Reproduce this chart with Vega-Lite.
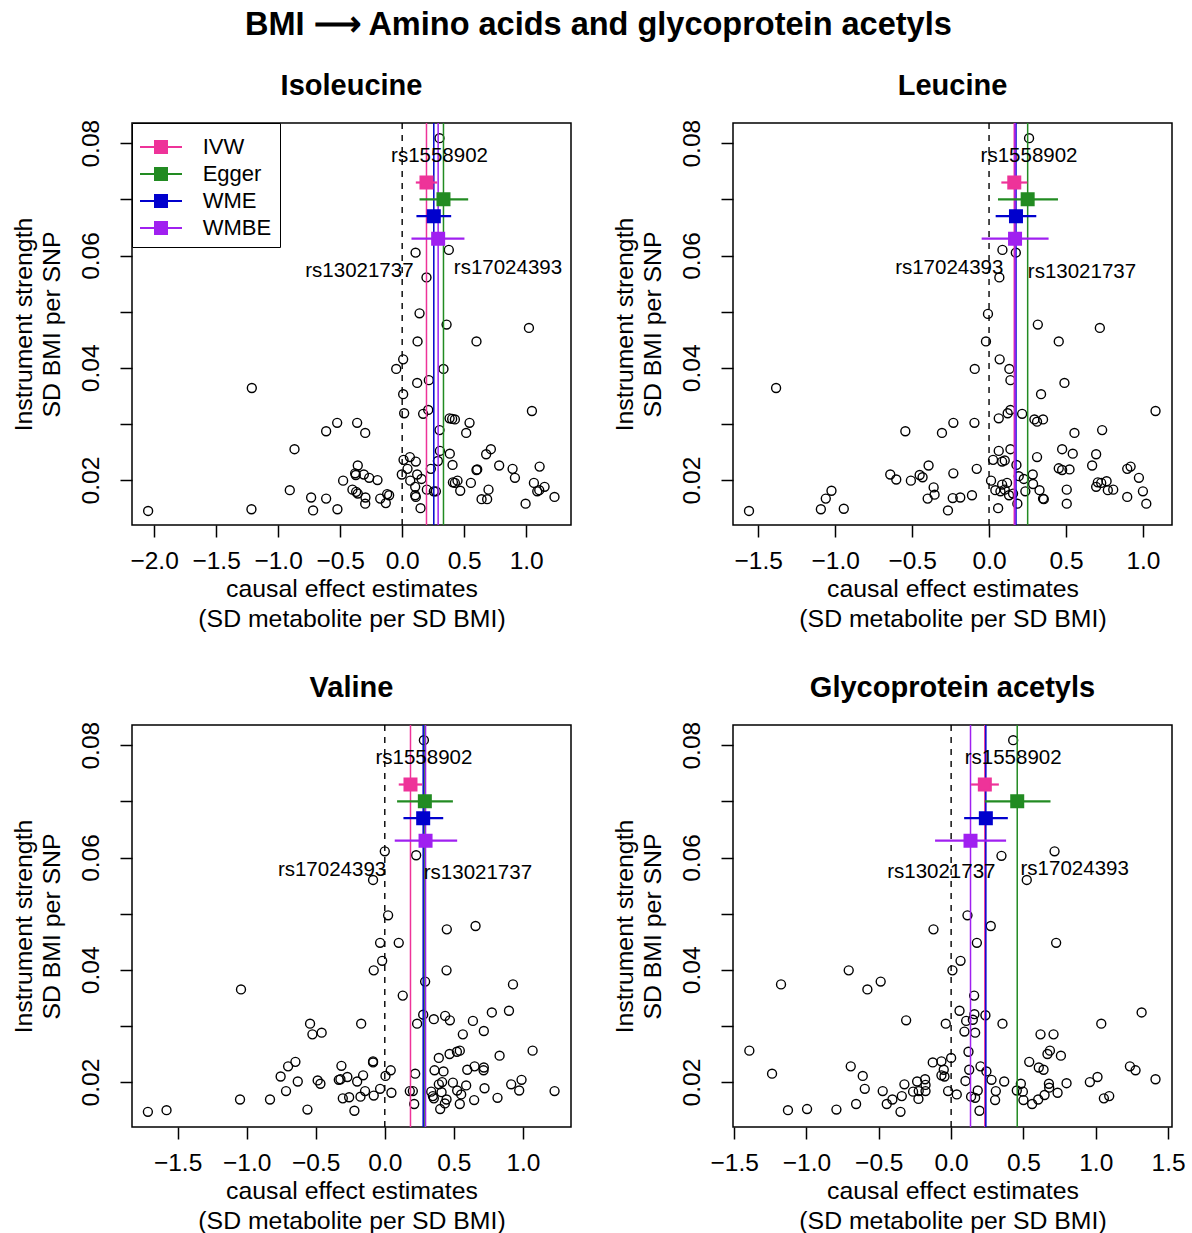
{
"$schema": "https://vega.github.io/schema/vega-lite/v6.json",
"background": "white",
"padding": {"left": 10, "top": 9, "right": 5, "bottom": 5},
"title": {"text": "BMI ⟶ Amino acids and glycoprotein acetyls", "fontSize": 32.5, "fontWeight": "bold", "font": "Liberation Sans", "color": "black", "anchor": "middle", "offset": 30},
"columns": 2,
"spacing": {"row": 200, "column": 162},
"bounds": "flush",
"resolve": {"scale": {"color": "independent", "stroke": "independent", "x": "independent", "y": "independent"}},
"config": {
 "font": "Liberation Sans",
 "view": {"stroke": "black", "strokeWidth": 1.5},
 "axis": {"domain": false, "grid": false, "tickColor": "black", "tickSize": 12, "tickWidth": 1.5, "labelColor": "black", "labelFontSize": 24.5, "labelFont": "Liberation Sans", "titleFont": "Liberation Sans", "titleFontSize": 24.8, "titleFontWeight": "normal", "titleColor": "black", "labelOverlap": false, "labelFlush": false},
 "axisX": {"labelPadding": 12, "titlePadding": 4, "titleLineHeight": 30},
 "axisY": {"labelAngle": 270, "labelAlign": "center", "labelBaseline": "bottom", "labelPadding": 17, "titlePadding": 13, "titleLineHeight": 28.4}
},
"concat": [
{
 "width": 439, "height": 402,
 "title": {"text": "Isoleucine", "fontSize": 29, "fontWeight": "bold", "font": "Liberation Sans", "color": "black", "offset": 18},
 "data": {"values": [
{"b":0.301,"s":0.0809,"snp":"rs1558902"},{"b":0.108,"s":0.0605,"snp":"rs13021737"},{"b":0.376,"s":0.0610,"snp":"rs17024393"},{"b":0.196,"s":0.0561},
{"b":0.140,"s":0.0497},{"b":0.358,"s":0.0477},{"b":1.022,"s":0.0471},{"b":0.124,"s":0.0447},{"b":0.599,"s":0.0447},{"b":0.008,"s":0.0415},{"b":-0.048,"s":0.0398},{"b":0.333,"s":0.0398},{"b":0.215,"s":0.0378},{"b":0.121,"s":0.0373},
{"b":-1.212,"s":0.0364},{"b":0.008,"s":0.0353},{"b":0.210,"s":0.0325},{"b":1.046,"s":0.0323},{"b":0.169,"s":0.0318},{"b":0.016,"s":0.0319},{"b":0.382,"s":0.0310},{"b":0.403,"s":0.0309},{"b":0.425,"s":0.0308},{"b":0.543,"s":0.0302},
{"b":-0.524,"s":0.0302},{"b":-0.363,"s":0.0302},{"b":-0.613,"s":0.0287},{"b":-0.298,"s":0.0284},{"b":0.301,"s":0.0289},{"b":0.516,"s":0.0284},{"b":-0.868,"s":0.0255},{"b":0.715,"s":0.0255},{"b":0.677,"s":0.0246},{"b":0.304,"s":0.0252},
{"b":0.384,"s":0.0247},{"b":0.062,"s":0.0241},{"b":0.011,"s":0.0236},{"b":0.110,"s":0.0233},{"b":0.288,"s":0.0234},{"b":-0.358,"s":0.0226},{"b":0.406,"s":0.0227},{"b":0.782,"s":0.0226},{"b":1.108,"s":0.0224},{"b":0.231,"s":0.0220},
{"b":0.599,"s":0.0218},{"b":0.605,"s":0.0219},{"b":0.890,"s":0.0220},{"b":-0.379,"s":0.0212},{"b":-0.309,"s":0.0210},{"b":0.043,"s":0.0220},{"b":-0.003,"s":0.0210},{"b":0.121,"s":0.0210},{"b":-0.374,"s":0.0209},{"b":-0.266,"s":0.0204},
{"b":-0.199,"s":0.0200},{"b":-0.476,"s":0.0199},{"b":0.065,"s":0.0199},{"b":0.156,"s":0.0202},{"b":0.909,"s":0.0204},{"b":0.409,"s":0.0196},{"b":0.425,"s":0.0195},{"b":0.446,"s":0.0199},{"b":0.554,"s":0.0195},{"b":1.062,"s":0.0195},
{"b":-0.401,"s":0.0183},{"b":-0.371,"s":0.0179},{"b":0.105,"s":0.0188},{"b":0.199,"s":0.0183},{"b":0.255,"s":0.0180},{"b":0.272,"s":0.0180},{"b":0.468,"s":0.0181},{"b":0.696,"s":0.0183},{"b":1.089,"s":0.0180},{"b":1.105,"s":0.0182},
{"b":1.148,"s":0.0188},{"b":-0.906,"s":0.0182},{"b":-0.358,"s":0.0176},{"b":-0.734,"s":0.0169},{"b":-0.613,"s":0.0167},{"b":-0.296,"s":0.0169},{"b":-0.177,"s":0.0167},{"b":-0.121,"s":0.0175},{"b":-0.105,"s":0.0173},{"b":-0.132,"s":0.0159},
{"b":-0.298,"s":0.0158},{"b":0.105,"s":0.0173},{"b":0.110,"s":0.0170},{"b":0.640,"s":0.0166},{"b":0.685,"s":0.0166},{"b":1.228,"s":0.0170},{"b":0.995,"s":0.0158},{"b":0.148,"s":0.0150},{"b":-0.718,"s":0.0146},{"b":-0.522,"s":0.0148},
{"b":-1.215,"s":0.0148},{"b":-2.048,"s":0.0145}
 ]},
 "layer": [
  {"mark": {"type": "point", "shape": "circle", "filled": false, "stroke": "black", "strokeWidth": 1.4, "size": 80, "opacity": 1},
   "encoding": {
    "x": {"field": "b", "type": "quantitative", "scale": {"domain": [-2.178, 1.361], "nice": false, "zero": false}, "axis": {"title": ["causal effect estimates", "(SD metabolite per SD BMI)"], "values": [-2, -1.5, -1, -0.5, 0, 0.5, 1], "format": ".1f"}},
    "y": {"field": "s", "type": "quantitative", "scale": {"domain": [0.012, 0.0836], "nice": false, "zero": false}, "axis": {"title": ["Instrument strength", "SD BMI per SNP"], "values": [0.02, 0.03, 0.04, 0.05, 0.06, 0.07, 0.08], "format": ".2f", "labelExpr": "indexof(['0.02','0.04','0.06','0.08'], datum.label) >= 0 ? datum.label : ''"}}}},
  {"data": {"values": [{"ref": 0}]}, "mark": {"type": "rule", "color": "black", "strokeWidth": 1.4, "strokeDash": [6, 6]}, "encoding": {"x": {"field": "ref", "type": "quantitative"}}},
  {"data": {"values": [{"method":"IVW","est":0.196,"lo":0.110,"hi":0.282,"ypos":0.073},{"method":"Egger","est":0.333,"lo":0.140,"hi":0.532,"ypos":0.070},{"method":"WME","est":0.255,"lo":0.115,"hi":0.395,"ypos":0.067},{"method":"WMBE","est":0.290,"lo":0.075,"hi":0.502,"ypos":0.063}]},
   "layer": [
    {"mark": {"type": "rule", "strokeWidth": 1.5}, "encoding": {"x": {"field": "est", "type": "quantitative"}, "color": {"field": "method", "type": "nominal", "scale": {"domain": ["IVW","Egger","WME","WMBE"], "range": ["#EE3399","#228B22","#0000CD","#A020F0"]}, "legend": {"title": " ", "titleFontSize": 1, "titlePadding": 4, "orient": "top-left", "offset": 0, "padding": 8, "strokeColor": "black", "fillColor": "white", "symbolType": "M-3.5,0H3.5M-1,-1H1V1H-1Z", "symbolSize": 144, "symbolStrokeWidth": 2, "symbolOffset": 10, "labelFontSize": 22, "labelFont": "Liberation Sans", "labelColor": "black", "labelOffset": 30.7, "rowPadding": 5}}}},
    {"mark": {"type": "rule", "strokeWidth": 2.2}, "encoding": {"x": {"field": "lo", "type": "quantitative"}, "x2": {"field": "hi"}, "y": {"field": "ypos", "type": "quantitative"}, "color": {"field": "method", "type": "nominal", "scale": {"domain": ["IVW","Egger","WME","WMBE"], "range": ["#EE3399","#228B22","#0000CD","#A020F0"]}, "legend": {"title": " ", "titleFontSize": 1, "titlePadding": 4, "orient": "top-left", "offset": 0, "padding": 8, "strokeColor": "black", "fillColor": "white", "symbolType": "M-3.5,0H3.5M-1,-1H1V1H-1Z", "symbolSize": 144, "symbolStrokeWidth": 2, "symbolOffset": 10, "labelFontSize": 22, "labelFont": "Liberation Sans", "labelColor": "black", "labelOffset": 30.7, "rowPadding": 5}}}},
    {"mark": {"type": "point", "shape": "square", "filled": true, "size": 144, "strokeWidth": 2, "opacity": 1}, "encoding": {"x": {"field": "est", "type": "quantitative"}, "y": {"field": "ypos", "type": "quantitative"},
      "color": {"field": "method", "type": "nominal", "scale": {"domain": ["IVW","Egger","WME","WMBE"], "range": ["#EE3399","#228B22","#0000CD","#A020F0"]}, "legend": {"title": " ", "titleFontSize": 1, "titlePadding": 4, "orient": "top-left", "offset": 0, "padding": 8, "strokeColor": "black", "fillColor": "white", "symbolType": "M-3.5,0H3.5M-1,-1H1V1H-1Z", "symbolSize": 144, "symbolStrokeWidth": 2, "symbolOffset": 10, "labelFontSize": 22, "labelFont": "Liberation Sans", "labelColor": "black", "labelOffset": 30.7, "rowPadding": 5}},
      "stroke": {"field": "method", "type": "nominal", "scale": {"domain": ["IVW","Egger","WME","WMBE"], "range": ["#EE3399","#228B22","#0000CD","#A020F0"]}, "legend": {"title": " ", "titleFontSize": 1, "titlePadding": 4, "orient": "top-left", "offset": 0, "padding": 8, "strokeColor": "black", "fillColor": "white", "symbolType": "M-3.5,0H3.5M-1,-1H1V1H-1Z", "symbolSize": 144, "symbolStrokeWidth": 2, "symbolOffset": 10, "labelFontSize": 22, "labelFont": "Liberation Sans", "labelColor": "black", "labelOffset": 30.7, "rowPadding": 5}}}}
   ]},
  {"transform": [{"filter": "datum.snp === 'rs1558902'"}], "mark": {"type": "text", "align": "center", "baseline": "middle", "dy": 18, "fontSize": 20.5, "color": "black"}, "encoding": {"x": {"field": "b", "type": "quantitative"}, "y": {"field": "s", "type": "quantitative"}, "text": {"field": "snp"}}},
  {"transform": [{"filter": "datum.snp === 'rs13021737'"}], "mark": {"type": "text", "align": "right", "baseline": "middle", "dx": -2, "dy": 18, "fontSize": 20.5, "color": "black"}, "encoding": {"x": {"field": "b", "type": "quantitative"}, "y": {"field": "s", "type": "quantitative"}, "text": {"field": "snp"}}},
  {"transform": [{"filter": "datum.snp === 'rs17024393'"}], "mark": {"type": "text", "align": "left", "baseline": "middle", "dx": 5, "dy": 18, "fontSize": 20.5, "color": "black"}, "encoding": {"x": {"field": "b", "type": "quantitative"}, "y": {"field": "s", "type": "quantitative"}, "text": {"field": "snp"}}}
 ]
},
{
 "width": 439, "height": 402,
 "title": {"text": "Leucine", "fontSize": 29, "fontWeight": "bold", "font": "Liberation Sans", "color": "black", "offset": 18},
 "data": {"values": [
{"b":0.260,"s":0.0809,"snp":"rs1558902"},{"b":0.087,"s":0.0610,"snp":"rs17024393"},{"b":0.174,"s":0.0605,"snp":"rs13021737"},{"b":0.067,"s":0.0561},
{"b":-0.007,"s":0.0496},{"b":0.317,"s":0.0477},{"b":0.720,"s":0.0471},{"b":-0.020,"s":0.0447},{"b":0.453,"s":0.0447},{"b":0.069,"s":0.0415},{"b":-0.093,"s":0.0398},{"b":0.132,"s":0.0398},{"b":0.139,"s":0.0378},{"b":0.490,"s":0.0373},
{"b":-1.384,"s":0.0364},{"b":0.338,"s":0.0353},{"b":0.139,"s":0.0325},{"b":1.082,"s":0.0323},{"b":0.215,"s":0.0318},{"b":0.121,"s":0.0319},{"b":0.063,"s":0.0310},{"b":0.295,"s":0.0308},{"b":0.312,"s":0.0304},{"b":0.351,"s":0.0308},
{"b":-0.232,"s":0.0302},{"b":-0.095,"s":0.0302},{"b":-0.544,"s":0.0287},{"b":-0.306,"s":0.0284},{"b":0.735,"s":0.0289},{"b":0.555,"s":0.0284},{"b":0.063,"s":0.0252},{"b":0.139,"s":0.0255},{"b":0.475,"s":0.0255},{"b":0.544,"s":0.0247},
{"b":0.696,"s":0.0246},{"b":0.312,"s":0.0241},{"b":0.026,"s":0.0236},{"b":0.085,"s":0.0233},{"b":0.102,"s":0.0235},{"b":0.178,"s":0.0227},{"b":-0.393,"s":0.0226},{"b":0.670,"s":0.0226},{"b":0.920,"s":0.0224},{"b":0.898,"s":0.0220},
{"b":0.453,"s":0.0221},{"b":0.475,"s":0.0218},{"b":0.523,"s":0.0219},{"b":-0.080,"s":0.0220},{"b":-0.232,"s":0.0212},{"b":-0.642,"s":0.0210},{"b":-0.451,"s":0.0209},{"b":-0.432,"s":0.0205},{"b":-0.603,"s":0.0201},{"b":-0.508,"s":0.0199},
{"b":0.193,"s":0.0207},{"b":0.226,"s":0.0202},{"b":0.284,"s":0.0210},{"b":0.013,"s":0.0199},{"b":0.974,"s":0.0204},{"b":0.085,"s":0.0192},{"b":0.117,"s":0.0195},{"b":0.286,"s":0.0193},{"b":-0.360,"s":0.0187},{"b":0.707,"s":0.0196},
{"b":0.729,"s":0.0195},{"b":0.764,"s":0.0198},{"b":0.696,"s":0.0188},{"b":0.041,"s":0.0182},{"b":0.074,"s":0.0180},{"b":0.102,"s":0.0183},{"b":0.130,"s":0.0173},{"b":0.156,"s":0.0176},{"b":0.236,"s":0.0180},{"b":0.328,"s":0.0182},
{"b":0.505,"s":0.0183},{"b":0.772,"s":0.0182},{"b":0.807,"s":0.0183},{"b":1.000,"s":0.0180},{"b":-0.354,"s":0.0174},{"b":-0.399,"s":0.0167},{"b":-0.236,"s":0.0168},{"b":-0.187,"s":0.0169},{"b":-0.111,"s":0.0173},{"b":0.351,"s":0.0167},
{"b":0.356,"s":0.0166},{"b":0.898,"s":0.0170},{"b":0.184,"s":0.0158},{"b":0.505,"s":0.0158},{"b":1.022,"s":0.0158},{"b":-1.061,"s":0.0167},{"b":-1.024,"s":0.0181},{"b":-1.093,"s":0.0148},{"b":-0.944,"s":0.0149},{"b":-1.560,"s":0.0145},
{"b":-0.267,"s":0.0146},{"b":0.059,"s":0.0150}
 ]},
 "layer": [
  {"mark": {"type": "point", "shape": "circle", "filled": false, "stroke": "black", "strokeWidth": 1.4, "size": 80, "opacity": 1},
   "encoding": {
    "x": {"field": "b", "type": "quantitative", "scale": {"domain": [-1.664, 1.189], "nice": false, "zero": false}, "axis": {"title": ["causal effect estimates", "(SD metabolite per SD BMI)"], "values": [-1.5, -1, -0.5, 0, 0.5, 1], "format": ".1f"}},
    "y": {"field": "s", "type": "quantitative", "scale": {"domain": [0.012, 0.0836], "nice": false, "zero": false}, "axis": {"title": ["Instrument strength", "SD BMI per SNP"], "values": [0.02, 0.03, 0.04, 0.05, 0.06, 0.07, 0.08], "format": ".2f", "labelExpr": "indexof(['0.02','0.04','0.06','0.08'], datum.label) >= 0 ? datum.label : ''"}}}},
  {"data": {"values": [{"ref": 0}]}, "mark": {"type": "rule", "color": "black", "strokeWidth": 1.4, "strokeDash": [6, 6]}, "encoding": {"x": {"field": "ref", "type": "quantitative"}}},
  {"data": {"values": [{"method":"IVW","est":0.164,"lo":0.080,"hi":0.249,"ypos":0.073},{"method":"Egger","est":0.251,"lo":0.058,"hi":0.448,"ypos":0.070},{"method":"WME","est":0.175,"lo":0.043,"hi":0.307,"ypos":0.067},{"method":"WMBE","est":0.169,"lo":-0.048,"hi":0.387,"ypos":0.063}]},
   "layer": [
    {"mark": {"type": "rule", "strokeWidth": 1.5}, "encoding": {"x": {"field": "est", "type": "quantitative"}, "color": {"field": "method", "type": "nominal", "scale": {"domain": ["IVW","Egger","WME","WMBE"], "range": ["#EE3399","#228B22","#0000CD","#A020F0"]}, "legend": null}}},
    {"mark": {"type": "rule", "strokeWidth": 2.2}, "encoding": {"x": {"field": "lo", "type": "quantitative"}, "x2": {"field": "hi"}, "y": {"field": "ypos", "type": "quantitative"}, "color": {"field": "method", "type": "nominal", "scale": {"domain": ["IVW","Egger","WME","WMBE"], "range": ["#EE3399","#228B22","#0000CD","#A020F0"]}, "legend": null}}},
    {"mark": {"type": "point", "shape": "square", "filled": true, "size": 144, "strokeWidth": 2, "opacity": 1}, "encoding": {"x": {"field": "est", "type": "quantitative"}, "y": {"field": "ypos", "type": "quantitative"},
      "color": {"field": "method", "type": "nominal", "scale": {"domain": ["IVW","Egger","WME","WMBE"], "range": ["#EE3399","#228B22","#0000CD","#A020F0"]}, "legend": null},
      "stroke": {"field": "method", "type": "nominal", "scale": {"domain": ["IVW","Egger","WME","WMBE"], "range": ["#EE3399","#228B22","#0000CD","#A020F0"]}, "legend": null}}}
   ]},
  {"transform": [{"filter": "datum.snp === 'rs1558902'"}], "mark": {"type": "text", "align": "center", "baseline": "middle", "dy": 18, "fontSize": 20.5, "color": "black"}, "encoding": {"x": {"field": "b", "type": "quantitative"}, "y": {"field": "s", "type": "quantitative"}, "text": {"field": "snp"}}},
  {"transform": [{"filter": "datum.snp === 'rs17024393'"}], "mark": {"type": "text", "align": "right", "baseline": "middle", "dx": 1, "dy": 18, "fontSize": 20.5, "color": "black"}, "encoding": {"x": {"field": "b", "type": "quantitative"}, "y": {"field": "s", "type": "quantitative"}, "text": {"field": "snp"}}},
  {"transform": [{"filter": "datum.snp === 'rs13021737'"}], "mark": {"type": "text", "align": "left", "baseline": "middle", "dx": 12, "dy": 19, "fontSize": 20.5, "color": "black"}, "encoding": {"x": {"field": "b", "type": "quantitative"}, "y": {"field": "s", "type": "quantitative"}, "text": {"field": "snp"}}}
 ]
},
{
 "width": 439, "height": 402,
 "title": {"text": "Valine", "fontSize": 29, "fontWeight": "bold", "font": "Liberation Sans", "color": "black", "offset": 18},
 "data": {"values": [
{"b":0.283,"s":0.0809,"snp":"rs1558902"},{"b":0.000,"s":0.0611,"snp":"rs17024393"},{"b":0.227,"s":0.0604,"snp":"rs13021737"},{"b":-0.085,"s":0.0560},
{"b":0.024,"s":0.0497},{"b":0.449,"s":0.0472},{"b":0.657,"s":0.0478},{"b":-0.034,"s":0.0448},{"b":0.101,"s":0.0448},{"b":-0.019,"s":0.0416},{"b":-0.080,"s":0.0399},{"b":0.447,"s":0.0399},{"b":0.292,"s":0.0379},{"b":0.928,"s":0.0374},
{"b":-1.041,"s":0.0365},{"b":0.130,"s":0.0354},{"b":0.278,"s":0.0320},{"b":0.355,"s":0.0312},{"b":0.437,"s":0.0318},{"b":0.471,"s":0.0310},{"b":0.638,"s":0.0309},{"b":0.775,"s":0.0324},{"b":0.899,"s":0.0327},{"b":0.234,"s":0.0304},
{"b":-0.171,"s":0.0304},{"b":-0.541,"s":0.0304},{"b":-0.524,"s":0.0285},{"b":-0.457,"s":0.0288},{"b":0.565,"s":0.0285},{"b":0.717,"s":0.0291},{"b":1.070,"s":0.0256},{"b":0.522,"s":0.0254},{"b":0.543,"s":0.0256},{"b":0.469,"s":0.0250},
{"b":0.391,"s":0.0243},{"b":0.831,"s":0.0247},{"b":-0.085,"s":0.0237},{"b":-0.085,"s":0.0235},{"b":-0.647,"s":0.0236},{"b":-0.700,"s":0.0228},{"b":-0.314,"s":0.0229},{"b":-0.754,"s":0.0210},{"b":-0.630,"s":0.0201},{"b":-0.486,"s":0.0203},
{"b":-0.466,"s":0.0197},{"b":-0.333,"s":0.0204},{"b":-0.321,"s":0.0205},{"b":-0.271,"s":0.0209},{"b":-0.200,"s":0.0201},{"b":-0.157,"s":0.0212},{"b":0.005,"s":0.0211},{"b":0.043,"s":0.0221},{"b":0.220,"s":0.0215},{"b":0.360,"s":0.0221},
{"b":0.425,"s":0.0219},{"b":0.597,"s":0.0222},{"b":0.650,"s":0.0228},{"b":0.717,"s":0.0226},{"b":0.715,"s":0.0221},{"b":0.990,"s":0.0204},{"b":0.915,"s":0.0196},{"b":0.973,"s":0.0185},{"b":1.229,"s":0.0184},{"b":0.391,"s":0.0196},
{"b":0.415,"s":0.0200},{"b":0.493,"s":0.0199},{"b":0.589,"s":0.0194},{"b":0.722,"s":0.0189},{"b":0.524,"s":0.0185},{"b":0.553,"s":0.0178},{"b":0.411,"s":0.0182},{"b":0.336,"s":0.0183},{"b":0.348,"s":0.0175},{"b":0.355,"s":0.0171},
{"b":0.447,"s":0.0169},{"b":0.435,"s":0.0162},{"b":0.401,"s":0.0152},{"b":0.543,"s":0.0161},{"b":0.647,"s":0.0168},{"b":0.816,"s":0.0172},{"b":0.181,"s":0.0184},{"b":0.203,"s":0.0184},{"b":0.213,"s":0.0161},{"b":0.048,"s":0.0181},
{"b":-0.034,"s":0.0188},{"b":-0.143,"s":0.0184},{"b":-0.080,"s":0.0176},{"b":-0.176,"s":0.0174},{"b":-0.258,"s":0.0173},{"b":-0.304,"s":0.0171},{"b":-0.220,"s":0.0149},{"b":-0.560,"s":0.0151},{"b":-0.715,"s":0.0184},{"b":-0.831,"s":0.0169},
{"b":-1.048,"s":0.0169},{"b":-1.580,"s":0.0150},{"b":-1.715,"s":0.0147}
 ]},
 "layer": [
  {"mark": {"type": "point", "shape": "circle", "filled": false, "stroke": "black", "strokeWidth": 1.4, "size": 80, "opacity": 1},
   "encoding": {
    "x": {"field": "b", "type": "quantitative", "scale": {"domain": [-1.830, 1.348], "nice": false, "zero": false}, "axis": {"title": ["causal effect estimates", "(SD metabolite per SD BMI)"], "values": [-1.5, -1, -0.5, 0, 0.5, 1], "format": ".1f"}},
    "y": {"field": "s", "type": "quantitative", "scale": {"domain": [0.012, 0.0836], "nice": false, "zero": false}, "axis": {"title": ["Instrument strength", "SD BMI per SNP"], "values": [0.02, 0.03, 0.04, 0.05, 0.06, 0.07, 0.08], "format": ".2f", "labelExpr": "indexof(['0.02','0.04','0.06','0.08'], datum.label) >= 0 ? datum.label : ''"}}}},
  {"data": {"values": [{"ref": 0}]}, "mark": {"type": "rule", "color": "black", "strokeWidth": 1.4, "strokeDash": [6, 6]}, "encoding": {"x": {"field": "ref", "type": "quantitative"}}},
  {"data": {"values": [{"method":"IVW","est":0.186,"lo":0.101,"hi":0.271,"ypos":0.073},{"method":"Egger","est":0.290,"lo":0.089,"hi":0.493,"ypos":0.070},{"method":"WME","est":0.278,"lo":0.135,"hi":0.423,"ypos":0.067},{"method":"WMBE","est":0.295,"lo":0.072,"hi":0.524,"ypos":0.063}]},
   "layer": [
    {"mark": {"type": "rule", "strokeWidth": 1.5}, "encoding": {"x": {"field": "est", "type": "quantitative"}, "color": {"field": "method", "type": "nominal", "scale": {"domain": ["IVW","Egger","WME","WMBE"], "range": ["#EE3399","#228B22","#0000CD","#A020F0"]}, "legend": null}}},
    {"mark": {"type": "rule", "strokeWidth": 2.2}, "encoding": {"x": {"field": "lo", "type": "quantitative"}, "x2": {"field": "hi"}, "y": {"field": "ypos", "type": "quantitative"}, "color": {"field": "method", "type": "nominal", "scale": {"domain": ["IVW","Egger","WME","WMBE"], "range": ["#EE3399","#228B22","#0000CD","#A020F0"]}, "legend": null}}},
    {"mark": {"type": "point", "shape": "square", "filled": true, "size": 144, "strokeWidth": 2, "opacity": 1}, "encoding": {"x": {"field": "est", "type": "quantitative"}, "y": {"field": "ypos", "type": "quantitative"},
      "color": {"field": "method", "type": "nominal", "scale": {"domain": ["IVW","Egger","WME","WMBE"], "range": ["#EE3399","#228B22","#0000CD","#A020F0"]}, "legend": null},
      "stroke": {"field": "method", "type": "nominal", "scale": {"domain": ["IVW","Egger","WME","WMBE"], "range": ["#EE3399","#228B22","#0000CD","#A020F0"]}, "legend": null}}}
   ]},
  {"transform": [{"filter": "datum.snp === 'rs1558902'"}], "mark": {"type": "text", "align": "center", "baseline": "middle", "dy": 18, "fontSize": 20.5, "color": "black"}, "encoding": {"x": {"field": "b", "type": "quantitative"}, "y": {"field": "s", "type": "quantitative"}, "text": {"field": "snp"}}},
  {"transform": [{"filter": "datum.snp === 'rs17024393'"}], "mark": {"type": "text", "align": "right", "baseline": "middle", "dx": 1.4, "dy": 19, "fontSize": 20.5, "color": "black"}, "encoding": {"x": {"field": "b", "type": "quantitative"}, "y": {"field": "s", "type": "quantitative"}, "text": {"field": "snp"}}},
  {"transform": [{"filter": "datum.snp === 'rs13021737'"}], "mark": {"type": "text", "align": "left", "baseline": "middle", "dx": 7.6, "dy": 18, "fontSize": 20.5, "color": "black"}, "encoding": {"x": {"field": "b", "type": "quantitative"}, "y": {"field": "s", "type": "quantitative"}, "text": {"field": "snp"}}}
 ]
},
{
 "width": 439, "height": 402,
 "title": {"text": "Glycoprotein acetyls", "fontSize": 29, "fontWeight": "bold", "font": "Liberation Sans", "color": "black", "offset": 18},
 "data": {"values": [
{"b":0.429,"s":0.0809,"snp":"rs1558902"},{"b":0.715,"s":0.0611,"snp":"rs17024393"},{"b":0.348,"s":0.0603,"snp":"rs13021737"},{"b":0.523,"s":0.0560},
{"b":0.113,"s":0.0497},{"b":0.274,"s":0.0478},{"b":-0.122,"s":0.0472},{"b":0.178,"s":0.0448},{"b":0.726,"s":0.0448},{"b":0.065,"s":0.0416},{"b":0.009,"s":0.0399},{"b":-0.708,"s":0.0399},{"b":-0.487,"s":0.0379},{"b":-1.176,"s":0.0374},
{"b":-0.579,"s":0.0365},{"b":0.159,"s":0.0354},{"b":0.058,"s":0.0327},{"b":0.161,"s":0.0321},{"b":0.237,"s":0.0319},{"b":1.317,"s":0.0324},{"b":0.104,"s":0.0309},{"b":0.150,"s":0.0311},{"b":-0.037,"s":0.0304},{"b":0.355,"s":0.0304},
{"b":-0.311,"s":0.0310},{"b":1.038,"s":0.0304},{"b":0.092,"s":0.0290},{"b":0.166,"s":0.0288},{"b":0.618,"s":0.0285},{"b":0.708,"s":0.0285},{"b":-1.395,"s":0.0256},{"b":0.120,"s":0.0254},{"b":0.683,"s":0.0256},{"b":0.666,"s":0.0250},
{"b":0.759,"s":0.0247},{"b":0.000,"s":0.0243},{"b":-0.127,"s":0.0235},{"b":-0.067,"s":0.0237},{"b":0.540,"s":0.0236},{"b":-0.694,"s":0.0228},{"b":-0.051,"s":0.0222},{"b":0.203,"s":0.0228},{"b":0.125,"s":0.0222},{"b":0.244,"s":0.0219},
{"b":0.606,"s":0.0226},{"b":0.639,"s":0.0222},{"b":1.236,"s":0.0228},{"b":1.275,"s":0.0221},{"b":-1.238,"s":0.0215},{"b":-0.611,"s":0.0211},{"b":-0.067,"s":0.0212},{"b":-0.046,"s":0.0210},{"b":1.413,"s":0.0205},{"b":1.012,"s":0.0209},
{"b":0.959,"s":0.0200},{"b":-0.180,"s":0.0205},{"b":-0.235,"s":0.0201},{"b":-0.323,"s":0.0196},{"b":-0.177,"s":0.0195},{"b":0.099,"s":0.0202},{"b":0.279,"s":0.0204},{"b":0.367,"s":0.0201},{"b":0.482,"s":0.0197},{"b":0.676,"s":0.0197},
{"b":0.798,"s":0.0198},{"b":0.678,"s":0.0190},{"b":-0.597,"s":0.0188},{"b":-0.473,"s":0.0184},{"b":-0.263,"s":0.0183},{"b":-0.224,"s":0.0184},{"b":-0.177,"s":0.0184},{"b":-0.021,"s":0.0184},{"b":0.039,"s":0.0178},{"b":0.184,"s":0.0185},
{"b":0.309,"s":0.0184},{"b":0.454,"s":0.0185},{"b":0.496,"s":0.0183},{"b":0.736,"s":0.0181},{"b":0.646,"s":0.0177},{"b":0.602,"s":0.0169},{"b":0.500,"s":0.0168},{"b":0.560,"s":0.0161},{"b":0.304,"s":0.0168},{"b":0.138,"s":0.0174},
{"b":0.166,"s":0.0172},{"b":0.196,"s":0.0149},{"b":1.056,"s":0.0171},{"b":1.093,"s":0.0175},{"b":-0.341,"s":0.0175},{"b":-0.226,"s":0.0170},{"b":-0.406,"s":0.0169},{"b":-0.445,"s":0.0161},{"b":-0.350,"s":0.0147},{"b":-0.657,"s":0.0161},
{"b":-0.793,"s":0.0151},{"b":-0.996,"s":0.0152},{"b":-1.128,"s":0.0150}
 ]},
 "layer": [
  {"mark": {"type": "point", "shape": "circle", "filled": false, "stroke": "black", "strokeWidth": 1.4, "size": 80, "opacity": 1},
   "encoding": {
    "x": {"field": "b", "type": "quantitative", "scale": {"domain": [-1.508, 1.527], "nice": false, "zero": false}, "axis": {"title": ["causal effect estimates", "(SD metabolite per SD BMI)"], "values": [-1.5, -1, -0.5, 0, 0.5, 1, 1.5], "format": ".1f"}},
    "y": {"field": "s", "type": "quantitative", "scale": {"domain": [0.012, 0.0836], "nice": false, "zero": false}, "axis": {"title": ["Instrument strength", "SD BMI per SNP"], "values": [0.02, 0.03, 0.04, 0.05, 0.06, 0.07, 0.08], "format": ".2f", "labelExpr": "indexof(['0.02','0.04','0.06','0.08'], datum.label) >= 0 ? datum.label : ''"}}}},
  {"data": {"values": [{"ref": 0}]}, "mark": {"type": "rule", "color": "black", "strokeWidth": 1.4, "strokeDash": [6, 6]}, "encoding": {"x": {"field": "ref", "type": "quantitative"}}},
  {"data": {"values": [{"method":"IVW","est":0.233,"lo":0.138,"hi":0.330,"ypos":0.073},{"method":"Egger","est":0.457,"lo":0.233,"hi":0.687,"ypos":0.070},{"method":"WME","est":0.240,"lo":0.090,"hi":0.392,"ypos":0.067},{"method":"WMBE","est":0.134,"lo":-0.111,"hi":0.380,"ypos":0.063}]},
   "layer": [
    {"mark": {"type": "rule", "strokeWidth": 1.5}, "encoding": {"x": {"field": "est", "type": "quantitative"}, "color": {"field": "method", "type": "nominal", "scale": {"domain": ["IVW","Egger","WME","WMBE"], "range": ["#EE3399","#228B22","#0000CD","#A020F0"]}, "legend": null}}},
    {"mark": {"type": "rule", "strokeWidth": 2.2}, "encoding": {"x": {"field": "lo", "type": "quantitative"}, "x2": {"field": "hi"}, "y": {"field": "ypos", "type": "quantitative"}, "color": {"field": "method", "type": "nominal", "scale": {"domain": ["IVW","Egger","WME","WMBE"], "range": ["#EE3399","#228B22","#0000CD","#A020F0"]}, "legend": null}}},
    {"mark": {"type": "point", "shape": "square", "filled": true, "size": 144, "strokeWidth": 2, "opacity": 1}, "encoding": {"x": {"field": "est", "type": "quantitative"}, "y": {"field": "ypos", "type": "quantitative"},
      "color": {"field": "method", "type": "nominal", "scale": {"domain": ["IVW","Egger","WME","WMBE"], "range": ["#EE3399","#228B22","#0000CD","#A020F0"]}, "legend": null},
      "stroke": {"field": "method", "type": "nominal", "scale": {"domain": ["IVW","Egger","WME","WMBE"], "range": ["#EE3399","#228B22","#0000CD","#A020F0"]}, "legend": null}}}
   ]},
  {"transform": [{"filter": "datum.snp === 'rs1558902'"}], "mark": {"type": "text", "align": "center", "baseline": "middle", "dy": 18, "fontSize": 20.5, "color": "black"}, "encoding": {"x": {"field": "b", "type": "quantitative"}, "y": {"field": "s", "type": "quantitative"}, "text": {"field": "snp"}}},
  {"transform": [{"filter": "datum.snp === 'rs13021737'"}], "mark": {"type": "text", "align": "right", "baseline": "middle", "dx": -6, "dy": 16, "fontSize": 20.5, "color": "black"}, "encoding": {"x": {"field": "b", "type": "quantitative"}, "y": {"field": "s", "type": "quantitative"}, "text": {"field": "snp"}}},
  {"transform": [{"filter": "datum.snp === 'rs17024393'"}], "mark": {"type": "text", "align": "left", "baseline": "middle", "dx": -34, "dy": 18, "fontSize": 20.5, "color": "black"}, "encoding": {"x": {"field": "b", "type": "quantitative"}, "y": {"field": "s", "type": "quantitative"}, "text": {"field": "snp"}}}
 ]
}
]
}
